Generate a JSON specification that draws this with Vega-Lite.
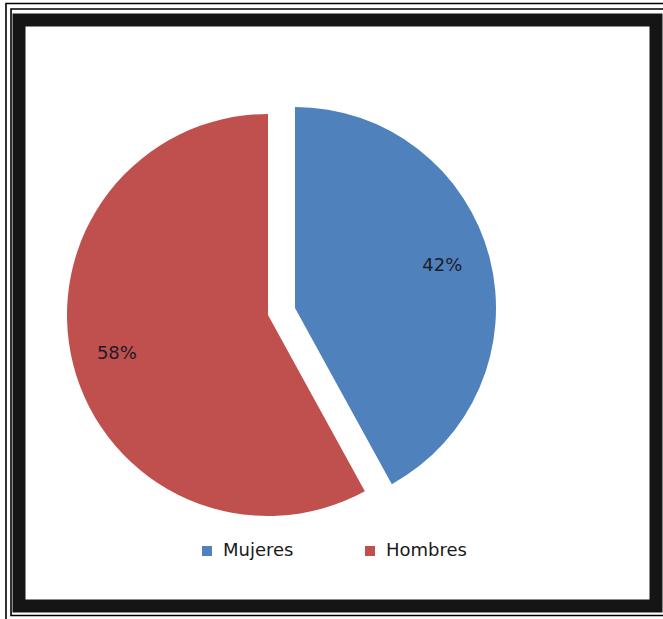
{
  "$schema": "https://vega.github.io/schema/vega-lite/v6.json",
  "width": 637,
  "height": 586,
  "autosize": "none",
  "padding": {"left": 19, "top": 20, "right": 7, "bottom": 13},
  "background": "white",
  "config": {
    "view": {"stroke": null},
    "font": "DejaVu Sans",
    "legend": {
      "orient": "none",
      "legendX": 179,
      "legendY": 522,
      "direction": "horizontal",
      "title": null,
      "symbolType": "square",
      "symbolSize": 100,
      "symbolStrokeWidth": 0,
      "symbolOpacity": 1,
      "labelFont": "DejaVu Sans",
      "labelFontSize": 18,
      "labelColor": "#1a1a1a",
      "labelOffset": 7,
      "columnPadding": 67
    }
  },
  "data": {
    "values": [
      {"sexo": "Mujeres", "valor": 0.42},
      {"sexo": "Hombres", "valor": 0.58}
    ]
  },
  "layer": [
    {
      "data": {"values": [{}]},
      "mark": {"type": "rect", "filled": false, "stroke": "#151515", "strokeWidth": 13,
               "x": 0, "y": 0, "x2": {"expr": "width"}, "y2": {"expr": "height"}},
      "encoding": {}
    },
    {
      "data": {"values": [{}]},
      "mark": {"type": "rect", "filled": false, "stroke": "black", "strokeWidth": 1.6,
               "x": -13, "y": -16.5, "x2": {"expr": "width+20"}, "y2": {"expr": "height+20"}},
      "encoding": {}
    },
    {
      "data": {"values": [{}]},
      "mark": {"type": "rect", "filled": false, "stroke": "black", "strokeWidth": 1.6,
               "x": -8, "y": -11, "x2": {"expr": "width+20"}, "y2": {"expr": "height+9.5"}},
      "encoding": {}
    },
    {
      "mark": {"type": "arc", "x": 249, "y": 295, "outerRadius": 201},
      "encoding": {
        "theta": {"field": "valor", "type": "quantitative", "stack": true},
        "order": {"field": "sexo", "sort": "descending"},
        "color": {"field": "sexo", "type": "nominal",
                  "scale": {"domain": ["Mujeres", "Hombres"], "range": ["#4F81BD", "#C0504D"]}},
        "opacity": {"condition": {"test": "datum.sexo === 'Mujeres'", "value": 0}, "value": 1}
      }
    },
    {
      "mark": {"type": "arc", "x": 276, "y": 288, "outerRadius": 201},
      "encoding": {
        "theta": {"field": "valor", "type": "quantitative", "stack": true},
        "order": {"field": "sexo", "sort": "descending"},
        "color": {"field": "sexo", "type": "nominal",
                  "scale": {"domain": ["Mujeres", "Hombres"], "range": ["#4F81BD", "#C0504D"]}},
        "opacity": {"condition": {"test": "datum.sexo === 'Hombres'", "value": 0}, "value": 1}
      }
    },
    {
      "mark": {"type": "text", "x": 249, "y": 295, "radius": 156, "font": "DejaVu Sans", "fontSize": 18, "color": "#1c1c28"},
      "encoding": {
        "theta": {"field": "valor", "type": "quantitative", "stack": true},
        "order": {"field": "sexo", "sort": "descending"},
        "text": {"field": "valor", "type": "quantitative", "format": ".0%"},
        "opacity": {"condition": {"test": "datum.sexo === 'Mujeres'", "value": 0}, "value": 1}
      }
    },
    {
      "mark": {"type": "text", "x": 276, "y": 288, "radius": 152, "font": "DejaVu Sans", "fontSize": 18, "color": "#1c1c28", "dy": -4},
      "encoding": {
        "theta": {"field": "valor", "type": "quantitative", "stack": true},
        "order": {"field": "sexo", "sort": "descending"},
        "text": {"field": "valor", "type": "quantitative", "format": ".0%"},
        "opacity": {"condition": {"test": "datum.sexo === 'Hombres'", "value": 0}, "value": 1}
      }
    }
  ]
}
